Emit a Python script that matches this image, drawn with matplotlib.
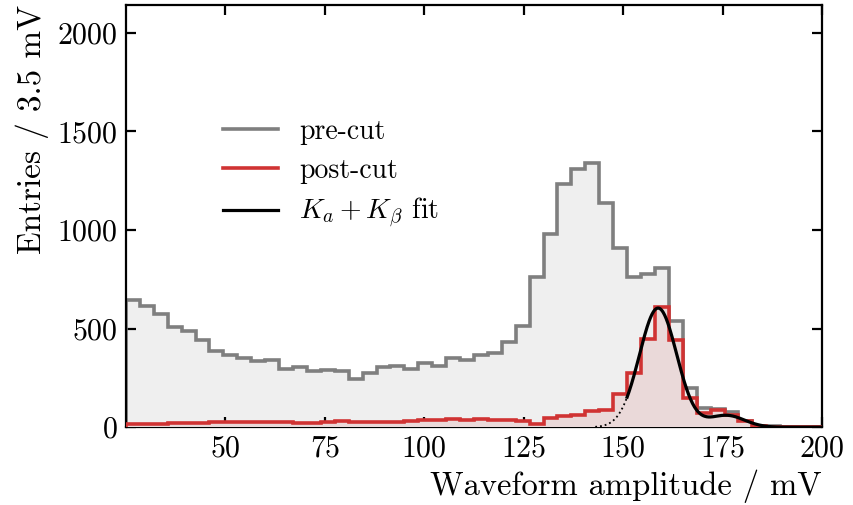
import numpy as np
import matplotlib
matplotlib.use("Agg")
import matplotlib.pyplot as plt
from matplotlib.lines import Line2D

plt.rcParams['font.family'] = ['cmr10']
plt.rcParams['mathtext.fontset'] = 'cm'
plt.rcParams['axes.formatter.use_mathtext'] = True

# Histogram binning: 50 bins of 3.5 mV from 25 to 200 mV
bin_lo, bin_hi, n_bins = 25.0, 200.0, 50
edges = np.linspace(bin_lo, bin_hi, n_bins + 1)

pre_cut = [644, 613, 574, 507, 490, 444, 385, 364, 350, 335,
           342, 296, 306, 284, 289, 284, 242, 273, 306, 310,
           293, 325, 308, 352, 343, 364, 374, 431, 512, 764,
           980, 1231, 1311, 1340, 1135, 907, 762, 778, 805, 537,
           198, 95, 90, 75, 32, 8, 4, 2, 1, 1]

post_cut = [15, 15, 15, 22, 22, 22, 27, 27, 24, 24,
            24, 26, 22, 22, 24, 32, 25, 29, 25, 29,
            30, 35, 35, 40, 35, 44, 39, 35, 32, 18,
            45, 55, 64, 80, 85, 167, 275, 449, 611, 442,
            148, 72, 88, 62, 32, 7, 3, 2, 1, 1]

# K_alpha + K_beta fit parameters (amplitude, mean, sigma)
ka_amp, ka_mu, ka_sigma = 604.0, 158.8, 4.7
kb_amp, kb_mu, kb_sigma = 60.0, 176.0, 4.5
fit_range = (151.0, 200.0)
fit_dotted_range = (143.0, 151.0)

def fit_model(x):
    return (ka_amp * np.exp(-0.5 * ((x - ka_mu) / ka_sigma) ** 2)
            + kb_amp * np.exp(-0.5 * ((x - kb_mu) / kb_sigma) ** 2))

gray_line = '#7f7f7f'
gray_fill = '#efefef'
red_line = '#d03333'
red_fill = '#ead9d9'

fig = plt.figure(figsize=(8.54, 5.05), dpi=100)
ax = fig.add_axes([0.1475, 0.154, 0.815, 0.836])

ax.stairs(pre_cut, edges, fill=True, color=gray_fill, zorder=1)
ax.stairs(pre_cut, edges, color=gray_line, lw=2.6, zorder=2)
ax.stairs(post_cut, edges, fill=True, color=red_fill, zorder=3)
ax.stairs(post_cut, edges, color=red_line, lw=2.6, zorder=4)

xs = np.linspace(*fit_range, 400)
ax.plot(xs, fit_model(xs), color='black', lw=2.3, zorder=5)
xd = np.linspace(*fit_dotted_range, 60)
ax.plot(xd, fit_model(xd), color='black', lw=1.3, ls=':', zorder=5)

ax.set_xlim(bin_lo, bin_hi)
ax.set_ylim(0, 2140)
ax.set_xticks([50, 75, 100, 125, 150, 175, 200])
ax.set_yticks([0, 500, 1000, 1500, 2000])

ax.tick_params(direction='in', length=7, width=1.6, labelsize=21.5,
               top=True, right=True, pad=6)
for s in ax.spines.values():
    s.set_linewidth(1.6)

ax.set_xlabel('Waveform amplitude / mV', fontsize=23.5, loc='right', labelpad=5)
ax.set_ylabel('Entries / 3.5 mV', fontsize=24, loc='top', labelpad=6)

handles = [Line2D([], [], color=gray_line, lw=2.6),
           Line2D([], [], color=red_line, lw=2.6),
           Line2D([], [], color='black', lw=2.3)]
labels = ['pre-cut', 'post-cut', r'$K_a + K_\beta$ fit']
ax.legend(handles, labels, loc='upper left', bbox_to_anchor=(0.103, 0.79),
          frameon=False, fontsize=20, handlelength=2.0, handletextpad=0.75,
          labelspacing=0.45)

fig.savefig('out.png', dpi=100)
